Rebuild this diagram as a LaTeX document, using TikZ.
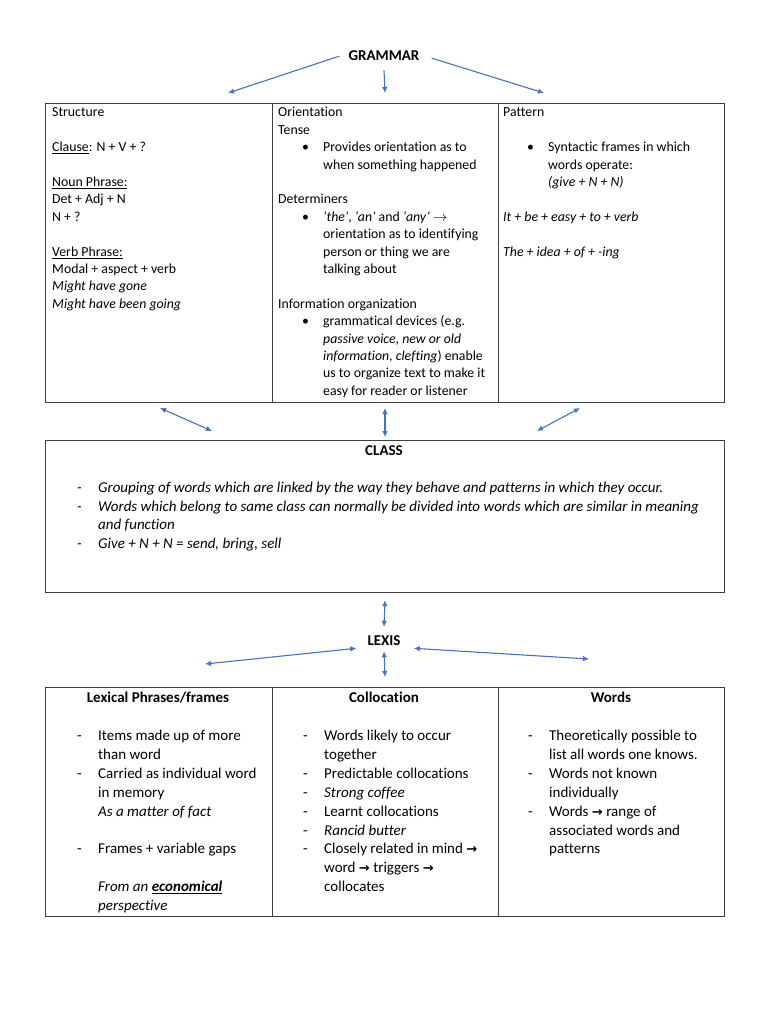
\documentclass[tikz,border=0pt]{standalone}
\usepackage{fontspec}
\setmainfont[Ligatures=NoCommon]{Carlito}
\newfontfamily\symfont{DejaVu Sans}
\usetikzlibrary{arrows.meta,positioning}

\definecolor{linkblue}{HTML}{4472C4}
\definecolor{rulegray}{HTML}{3F3F3F}

\newcommand{\topfont}{\fontsize{13.8}{17.4}\selectfont}
\newcommand{\lowfont}{\fontsize{15}{18.9}\selectfont}
\newcommand{\bul}{\par\noindent\hangindent=45pt\hangafter=1\hspace*{24pt}\makebox[21pt][l]{\textbullet}}
\newcommand{\dsh}{\par\noindent\hangindent=21pt\hangafter=1\makebox[21pt][l]{-}}
\newcommand{\gap}{\par\vspace{\baselineskip}}
\newcommand{\rarr}{{\symfont\bfseries\fontsize{13}{13}\selectfont →}}

\begin{document}
\begin{tikzpicture}[
		x=1pt, y=-1pt,
		box/.style = {draw=rulegray, line width=1.1pt, anchor=north west, inner sep=0pt},
		head/.style = {font=\lowfont\bfseries, anchor=base, inner sep=0pt},
		toptext/.style = {font=\topfont, anchor=base west, inner sep=0pt},
		lowtext/.style = {font=\lowfont, anchor=base west, inner sep=0pt},
		link/.style = {draw=linkblue, line width=1.1pt, -{Latex[length=6pt,width=5.5pt]}},
		dlink/.style = {draw=linkblue, line width=1.1pt, {Latex[length=6pt,width=5.5pt]}-{Latex[length=6pt,width=5.5pt]}}
	]
	\fill[white] (0,0) rectangle (768,1024);
	\useasboundingbox (0,0) rectangle (768,1024);

	% grammar and its table
	\node[head] (gram) at (384,61) {GRAMMAR};
	\node[box, minimum width=226.5pt, minimum height=298.5pt] (structure) at (45,103) {};
	\node[box, minimum width=226pt, minimum height=298.5pt] (orientation) at (271.5,103) {};
	\node[box, minimum width=226.5pt, minimum height=298.5pt] (pattern) at (497.5,103) {};

	\node[toptext] (structtxt) at (52,117) {\parbox[t]{215pt}{Structure\gap
		\underline{Clause}: N + V + ?\gap
		\underline{Noun Phrase:}\\ Det + Adj + N\\ N + ?\gap
		\underline{Verb Phrase:}\\ Modal + aspect + verb\\ \textit{Might have gone}\\ \textit{Might have been going}}};
	\node[toptext] (orienttxt) at (278,117) {\parbox[t]{215pt}{Orientation\\ Tense
		\bul Provides orientation as to\\ when something happened\gap
		Determiners
		\bul \textit{‘the’}, \textit{‘an’} and \textit{‘any’} $\rightarrow$\\ orientation as to identifying\\ person or thing we are\\ talking about\gap
		Information organization
		\bul grammatical devices (e.g.\\ \textit{passive voice, new or old}\\ \textit{information, clefting}) enable\\ us to organize text to make it\\ easy for reader or listener}};
	\node[toptext] (patterntxt) at (503,117) {\parbox[t]{215pt}{Pattern\gap
		\bul Syntactic frames in which\\ words operate:\\ \textit{(give + N + N)}\gap
		\textit{It + be + easy + to + verb}\gap
		\textit{The + idea + of + -ing}}};

	\coordinate (gleft) at (228,93);
	\coordinate (gmid) at (385,93);
	\coordinate (gright) at (544,93);
	\draw[link] ([xshift=-9pt]gram.west) -- (gleft);
	\draw[link] ([yshift=-9pt]gram.south) -- (gmid);
	\draw[link] ([xshift=12pt,yshift=-2pt]gram.east) -- (gright);

	% class
	\node[box, minimum width=679pt, minimum height=152pt] (classbox) at (45,440) {};
	\node[head] (class) at (384,455) {CLASS};
	\node[lowtext] (classtxt) at (77,492.5) {\parbox[t]{640pt}{\fontsize{15}{18.7}\selectfont\itshape
		\dsh Grouping of words which are linked by the way they behave and patterns in which they occur.
		\dsh Words which belong to same class can normally be divided into words which are similar in meaning\\ and function
		\dsh Give + N + N = send, bring, sell}};

	\coordinate (sa) at (160,408); \coordinate (sb) at (212,431);
	\coordinate (oa) at (385,408); \coordinate (ob) at (385,437);
	\coordinate (pa) at (580,408); \coordinate (pb) at (537,431);
	\draw[dlink] (sa) -- (sb);
	\draw[dlink] (oa) -- (ob);
	\draw[dlink] (pa) -- (pb);

	% lexis and its table
	\node[head] (lex) at (384,645) {LEXIS};
	\draw[dlink] ([yshift=-7pt]classbox.south) -- ([yshift=8pt]lex.north);

	\node[box, minimum width=226.5pt, minimum height=229pt] (phrases) at (45,687) {};
	\node[box, minimum width=226pt, minimum height=229pt] (colloc) at (271.5,687) {};
	\node[box, minimum width=226.5pt, minimum height=229pt] (words) at (497.5,687) {};
	\node[head] (phraseshd) at (158,702) {Lexical Phrases/frames};
	\node[head] (collochd) at (384,702) {Collocation};
	\node[head] (wordshd) at (611,702) {Words};

	\node[lowtext] (phrasestxt) at (77,740.5) {\parbox[t]{190pt}{%
		\dsh Items made up of more\\ than word
		\dsh Carried as individual word\\ in memory\\ \textit{As a matter of fact}\gap
		\dsh Frames + variable gaps\\ \mbox{}\\ \textit{From an \underline{\textbf{economical}}}\\ \textit{perspective}}};
	\node[lowtext] (colloctxt) at (303,740.5) {\parbox[t]{190pt}{%
		\dsh Words likely to occur\\ together
		\dsh Predictable collocations
		\dsh \textit{Strong coffee}
		\dsh Learnt collocations
		\dsh \textit{Rancid butter}
		\dsh Closely related in mind \rarr\\ word \rarr\ triggers \rarr\\ collocates}};
	\node[lowtext] (wordstxt) at (528,740.5) {\parbox[t]{190pt}{%
		\dsh Theoretically possible to\\ list all words one knows.
		\dsh Words not known\\ individually
		\dsh Words \rarr\ range of\\ associated words and\\ patterns}};

	\coordinate (lexleft) at (205,664);
	\coordinate (lexright) at (589,659);
	\coordinate (lexdown) at (385,677);
	\draw[dlink] ([xshift=-11pt,yshift=-3pt]lex.south west) -- (lexleft);
	\draw[dlink] ([xshift=13pt,yshift=-3pt]lex.south east) -- (lexright);
	\draw[dlink] ([yshift=-6pt]lex.south) -- (lexdown);
\end{tikzpicture}
\end{document}
